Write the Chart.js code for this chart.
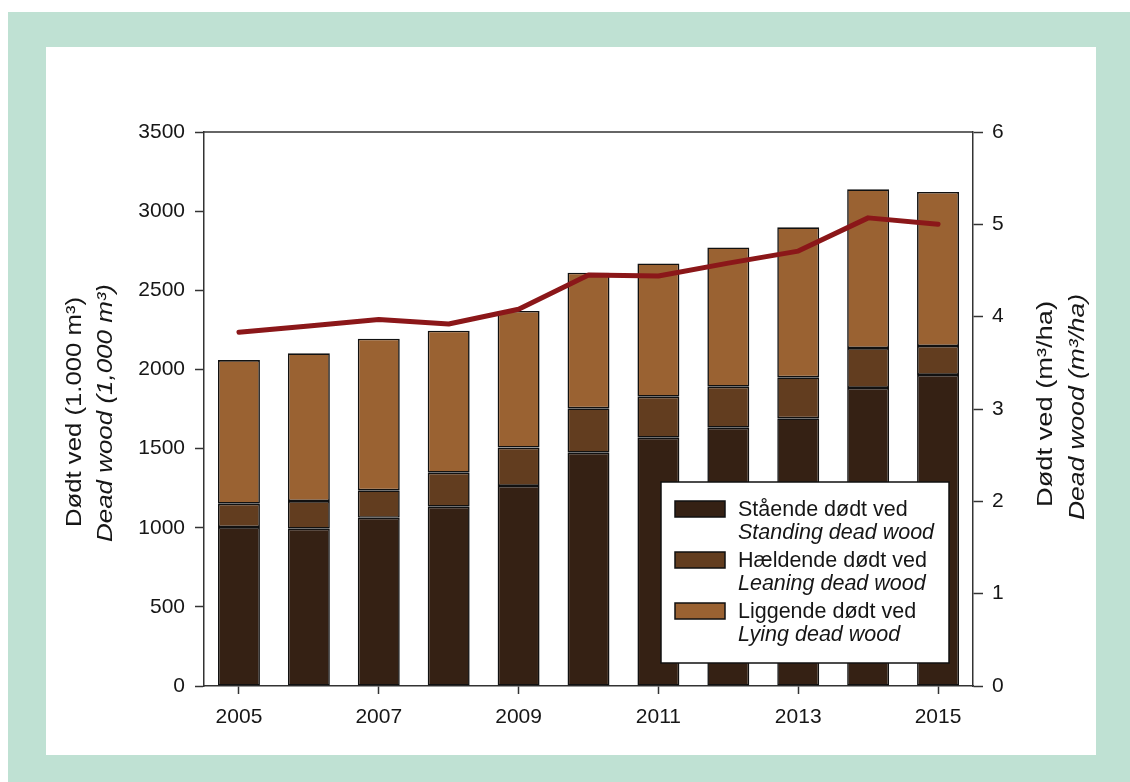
<!DOCTYPE html>
<html>
<head>
<meta charset="utf-8">
<script src="https://cdn.jsdelivr.net/npm/chart.js@4"></script>
<style>
  html, body { margin:0; padding:0; background:#ffffff; width:1130px; height:782px; overflow:hidden; }
  #green { position:absolute; left:8px; top:12px; width:1122px; height:770px; background:#bfe1d3; }
  #panel { position:absolute; left:46px; top:47px; width:1050px; height:708px; background:#ffffff; }
  #c { position:absolute; left:0; top:0; }
</style>
</head>
<body>
<div id="green"></div>
<div id="panel"></div>
<canvas id="c" width="1130" height="782"></canvas>
<script>
// ---- data ----
const years = ['2005','2006','2007','2008','2009','2010','2011','2012','2013','2014','2015'];
// stacked segments, 1,000 m3
const standing = [1004, 994, 1063, 1133, 1264, 1474, 1569, 1632, 1691, 1883, 1965];
const leaning  = [148, 174, 173, 215, 242, 280, 259, 259, 259, 252, 183];
const lying    = [907, 934, 958, 897, 863, 857, 842, 880, 948, 1003, 973];
// dead wood per hectare, m3/ha (right axis)
const perHa    = [3.83, 3.90, 3.97, 3.92, 4.08, 4.45, 4.44, 4.58, 4.71, 5.07, 5.00];
const leftTicks  = [0, 500, 1000, 1500, 2000, 2500, 3000, 3500];
const rightTicks = [0, 1, 2, 3, 4, 5, 6];

const legendDa = ['Stående dødt ved', 'Hældende dødt ved', 'Liggende dødt ved'];
const legendEn = ['Standing dead wood', 'Leaning dead wood', 'Lying dead wood'];
const leftTitle  = ['Dødt ved (1.000 m³)', 'Dead wood (1,000 m³)'];
const rightTitle = ['Dødt ved (m³/ha)', 'Dead wood (m³/ha)'];

const FONT = '"Liberation Sans", Arial, sans-serif';
const TXT = '#161616';
const AX = '#333333';
const colStanding = '#352114';
const colLeaning  = '#623d1f';
const colLying    = '#9a6232';
const colLine     = '#8b1719';

const decor = {
  id: 'decor',
  afterDraw(chart) {
    const ctx = chart.ctx, a = chart.chartArea;
    ctx.save();
    // top frame line
    ctx.strokeStyle = AX; ctx.lineWidth = 1.5;
    ctx.beginPath(); ctx.moveTo(a.left, a.top); ctx.lineTo(a.right, a.top); ctx.stroke();

    // axis titles (both reading bottom-to-top), stretched along the text to the reference length
    ctx.fillStyle = TXT; ctx.textAlign = 'center'; ctx.textBaseline = 'alphabetic';
    const drawRot = (txt, x, y, italic, len) => {
      ctx.save(); ctx.translate(x, y); ctx.rotate(-Math.PI/2);
      ctx.font = (italic ? 'italic ' : '') + '22px ' + FONT;
      const w = ctx.measureText(txt).width;
      ctx.scale(len / w, 1);
      ctx.fillText(txt, 0, 0); ctx.restore();
    };
    drawRot(leftTitle[0], 81, 412, false, 230);
    drawRot(leftTitle[1], 112, 413, true, 258);
    drawRot(rightTitle[0], 1052, 404, false, 206);
    drawRot(rightTitle[1], 1084, 407, true, 226);

    // legend
    const bx = a.right - 312, by = a.bottom - 204, bw = 288, bh = 181;
    ctx.fillStyle = '#ffffff'; ctx.fillRect(bx, by, bw, bh);
    ctx.strokeStyle = '#111111'; ctx.lineWidth = 1.5; ctx.strokeRect(bx, by, bw, bh);
    const cols = [colStanding, colLeaning, colLying];
    ctx.textAlign = 'left';
    for (let i = 0; i < 3; i++) {
      const sy = by + 19 + i * 51;
      ctx.fillStyle = cols[i]; ctx.fillRect(bx + 14, sy, 50, 16);
      ctx.strokeStyle = '#111111'; ctx.lineWidth = 1.5; ctx.strokeRect(bx + 14, sy, 50, 16);
      ctx.fillStyle = TXT;
      ctx.font = '21.5px ' + FONT;
      ctx.fillText(legendDa[i], bx + 77, sy + 15);
      ctx.font = 'italic 21.5px ' + FONT;
      ctx.fillText(legendEn[i], bx + 77, sy + 38);
    }
    ctx.restore();
  }
};

const barCommon = { borderColor: '#111111', borderWidth: 1.6, borderSkipped: false,
                    barPercentage: 0.6, categoryPercentage: 1.0, stack: 's', yAxisID: 'y', order: 1 };

new Chart(document.getElementById('c'), {
  type: 'bar',
  data: {
    labels: years,
    datasets: [
      Object.assign({ label: legendDa[0], data: standing, backgroundColor: colStanding }, barCommon),
      Object.assign({ label: legendDa[1], data: leaning,  backgroundColor: colLeaning }, barCommon),
      Object.assign({ label: legendDa[2], data: lying,    backgroundColor: colLying }, barCommon),
      { type: 'line', label: 'm³/ha', data: perHa, yAxisID: 'y2', order: 0,
        borderColor: colLine, borderWidth: 5, pointRadius: 0, tension: 0, fill: false,
        borderCapStyle: 'round', borderJoinStyle: 'round' }
    ]
  },
  options: {
    responsive: false, animation: false, devicePixelRatio: 1,
    layout: { padding: { top: 132, left: 0, right: 0, bottom: 0 } },
    plugins: { legend: { display: false }, tooltip: { enabled: false }, title: { display: false } },
    scales: {
      x: {
        type: 'category', stacked: true, offset: true,
        grid: { drawOnChartArea: false, drawTicks: true, tickLength: 8, tickWidth: 1.5, offset: false,
                tickColor: (c) => (c.index % 2 === 0 ? AX : 'rgba(0,0,0,0)') },
        border: { display: true, color: AX, width: 1.5 },
        ticks: { autoSkip: false, maxRotation: 0, minRotation: 0, padding: 11, color: TXT,
                 font: { family: FONT, size: 21 },
                 callback: (v, i) => (i % 2 === 0 ? years[i] : '') },
        afterFit: (s) => { s.height = 96; }
      },
      y: {
        position: 'left', stacked: true, min: leftTicks[0], max: leftTicks[leftTicks.length - 1],
        grid: { drawOnChartArea: false, drawTicks: true, tickLength: 9, tickWidth: 1.5, tickColor: AX },
        border: { display: true, color: AX, width: 1.5 },
        afterBuildTicks: (s) => { s.ticks = leftTicks.map(v => ({ value: v })); },
        ticks: { padding: 10, color: TXT, font: { family: FONT, size: 21 }, callback: (v) => String(v) },
        afterFit: (s) => { s.width = 204; }
      },
      y2: {
        position: 'right', stacked: false, min: rightTicks[0], max: rightTicks[rightTicks.length - 1],
        grid: { drawOnChartArea: false, drawTicks: true, tickLength: 10, tickWidth: 1.5, tickColor: AX },
        border: { display: true, color: AX, width: 1.5 },
        afterBuildTicks: (s) => { s.ticks = rightTicks.map(v => ({ value: v })); },
        ticks: { padding: 9, color: TXT, font: { family: FONT, size: 21 }, callback: (v) => String(v) },
        afterFit: (s) => { s.width = 157; }
      }
    }
  },
  plugins: [decor]
});
</script>
</body>
</html>
